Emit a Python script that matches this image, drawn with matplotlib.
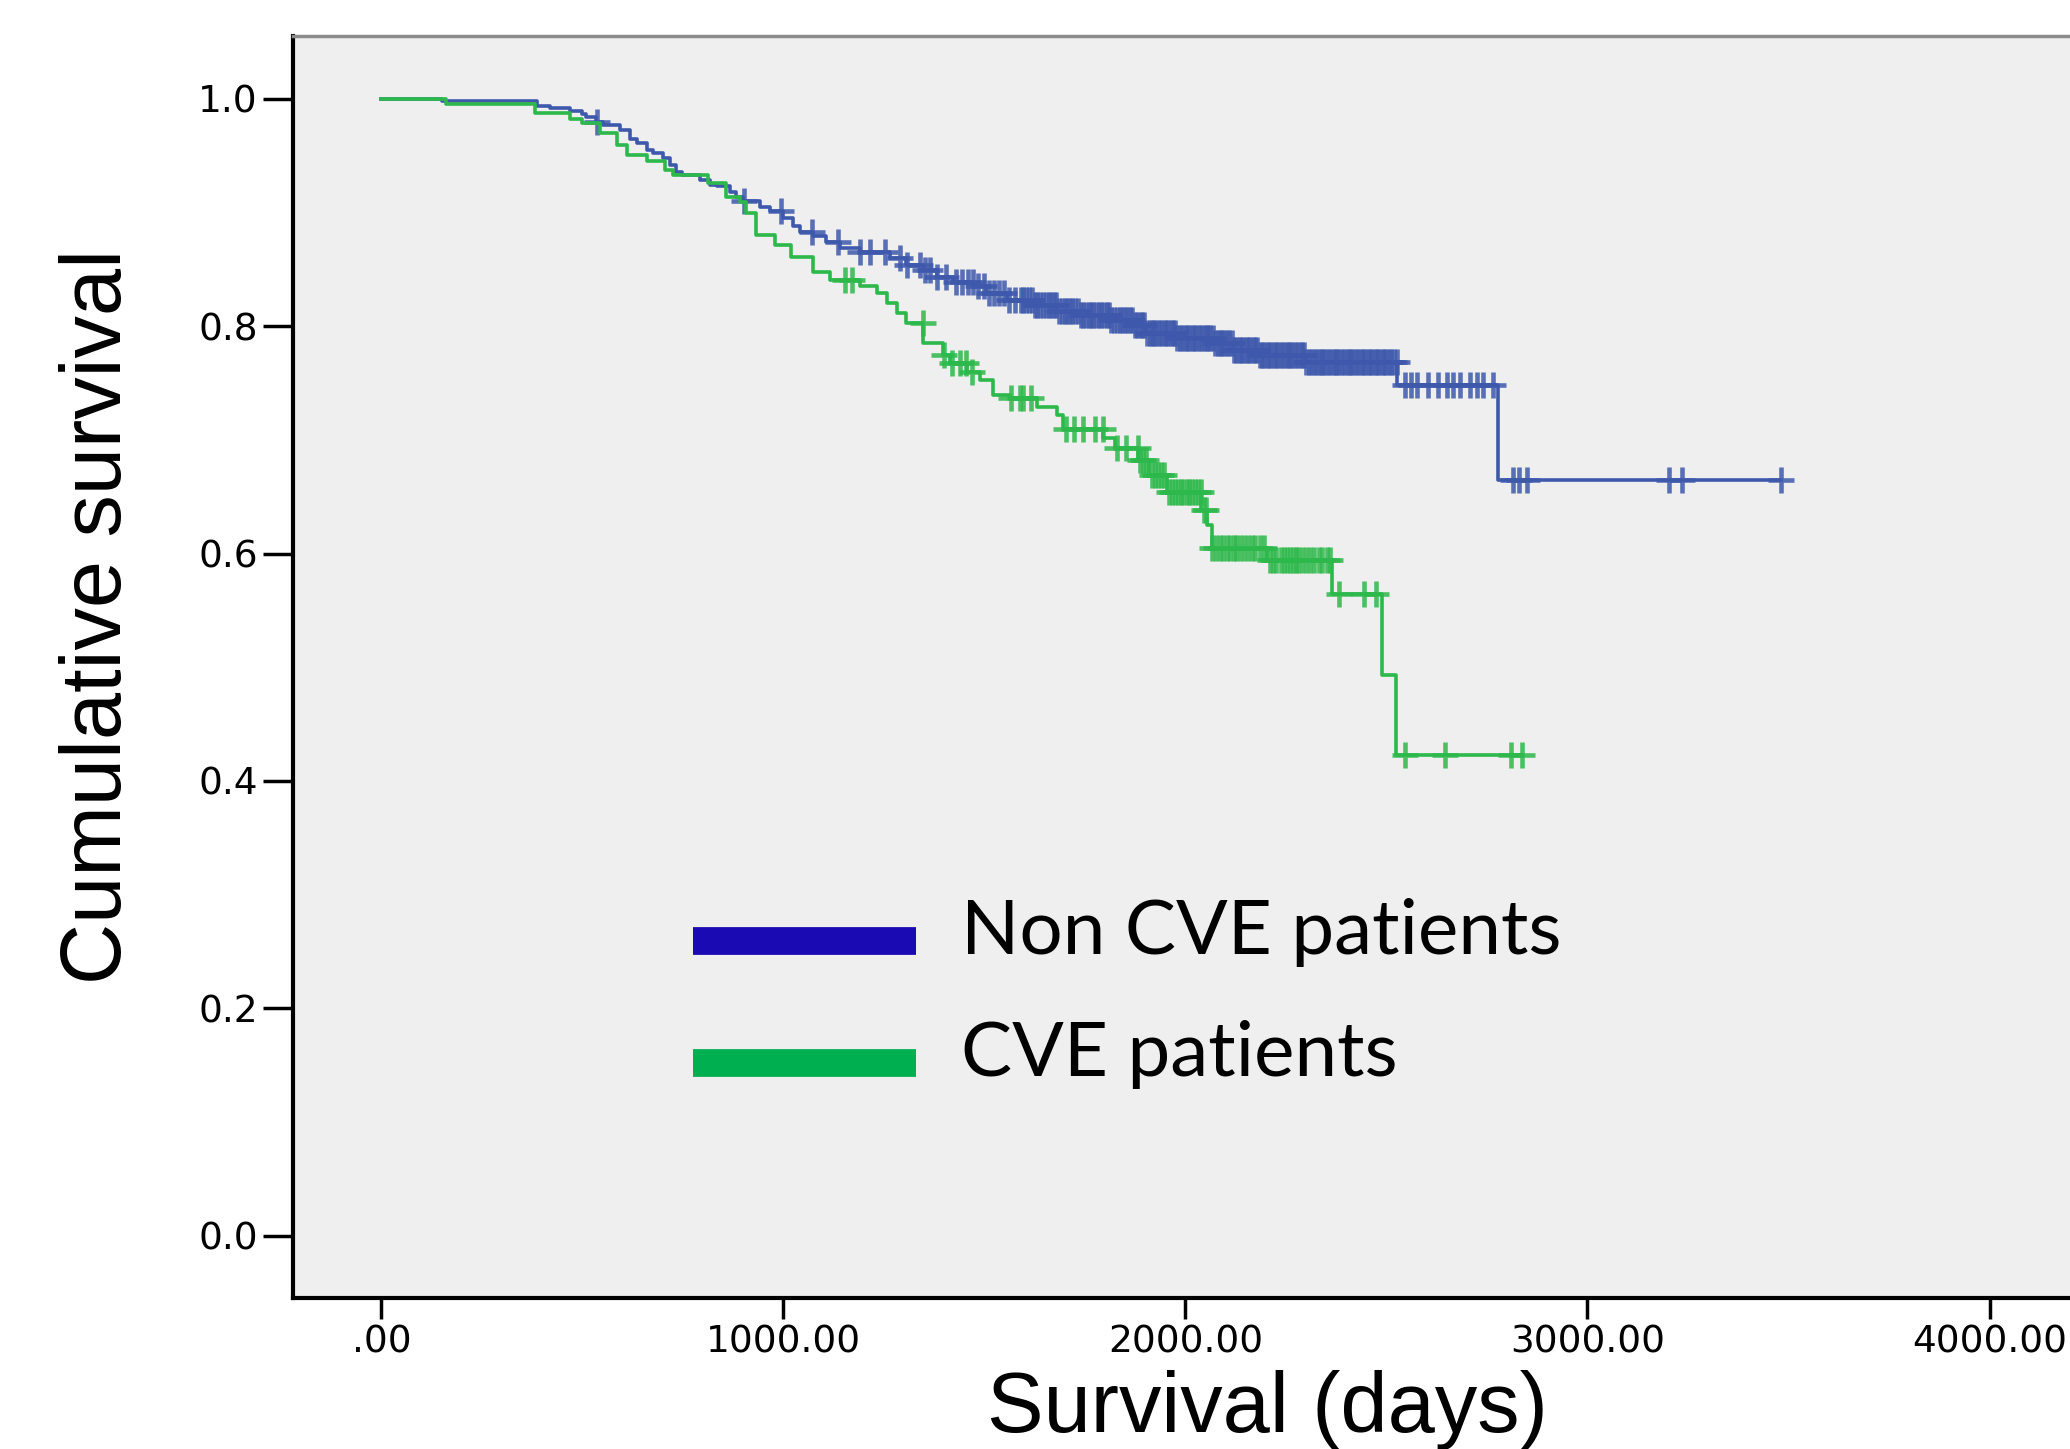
import matplotlib
matplotlib.use("Agg")
import matplotlib.pyplot as plt
import numpy as np
from matplotlib.lines import Line2D
from matplotlib.legend_handler import HandlerLine2D

# ---------------- data ----------------
# Non CVE patients: event times (days) and survival after each event
noncve_time = [0, 150, 386, 420, 469, 498, 510, 535, 551, 593, 618, 635, 660, 676,
               701, 718, 734, 747, 792, 817, 834, 867, 883, 900, 941, 966, 1000,
               1024, 1041, 1074, 1107, 1141, 1190, 1265, 1306, 1348, 1381, 1422,
               1472, 1505, 1555, 1621, 1680, 1738, 1812, 1870, 1903, 1978, 2069,
               2119, 2185, 2300, 2526, 2777]
noncve_surv = [1.000, 0.998, 0.994, 0.992, 0.989, 0.987, 0.9845, 0.980, 0.977, 0.973,
               0.965, 0.961, 0.955, 0.952, 0.948, 0.942, 0.936, 0.933, 0.929, 0.924,
               0.923, 0.9185, 0.914, 0.910, 0.905, 0.901, 0.895, 0.888, 0.883, 0.879,
               0.8745, 0.8686, 0.8657, 0.860, 0.854, 0.8496, 0.8437, 0.8393, 0.835,
               0.829, 0.823, 0.819, 0.813, 0.810, 0.8056, 0.801, 0.794, 0.7895, 0.785,
               0.7792, 0.775, 0.769, 0.748, 0.665]
noncve_censored = [537, 902, 995, 1070, 1136, 1191, 1215, 1252, 1291, 1307, 1340, 1352,
                   1365, 1382, 1405, 1430, 1445, 1458, 1471, 1485, 1498, 1511, 1523,
                   1536, 1548, 1561, 1575, 1590, 1597, 1604, 1611, 1618, 1625, 1632,
                   1639, 1645, 1652, 1660, 1666, 1672, 1679, 1686, 1693, 1700, 1706,
                   1712, 1719, 1726, 1733, 1740, 1746, 1752, 1759, 1765, 1771, 1778,
                   1784, 1790, 1797, 1804, 1810, 1816, 1823, 1830, 1836, 1842, 1849,
                   1855, 1861, 1868, 1874, 1880, 1886, 1892, 1898, 1905, 1911, 1916,
                   1922, 1928, 1934, 1940, 1946, 1951, 1957, 1963, 1969, 1975, 1980,
                   1986, 1992, 1998, 2004, 2010, 2016, 2021, 2027, 2033, 2039, 2045,
                   2051, 2056, 2062, 2068, 2074, 2080, 2086, 2091, 2097, 2103, 2109,
                   2115, 2121, 2126, 2132, 2138, 2144, 2150, 2156, 2161, 2167, 2173,
                   2179, 2186, 2191, 2196, 2202, 2208, 2214, 2220, 2226, 2231, 2237,
                   2243, 2249, 2255, 2261, 2266, 2272, 2278, 2284, 2290, 2296, 2301,
                   2307, 2313, 2319, 2325, 2331, 2336, 2342, 2348, 2354, 2360, 2366,
                   2371, 2377, 2383, 2389, 2395, 2401, 2406, 2412, 2418, 2424, 2430,
                   2436, 2441, 2447, 2453, 2459, 2465, 2471, 2476, 2482, 2488, 2494,
                   2500, 2506, 2511, 2518, 2525, 2546, 2560, 2575, 2604, 2629, 2650,
                   2666, 2682, 2707, 2724, 2740, 2765, 2815, 2830, 2850, 3202, 3236,
                   3481]

# CVE patients
cve_time = [0, 162, 382, 469, 500, 543, 585, 610, 660, 705, 725, 812, 858, 892, 908,
            933, 979, 1020, 1074, 1116, 1190, 1232, 1257, 1282, 1306, 1348, 1398,
            1414, 1456, 1489, 1522, 1563, 1630, 1681, 1696, 1796, 1825, 1882, 1910,
            1953, 2039, 2054, 2066, 2203, 2365, 2488, 2524]
cve_surv = [1.000, 0.9956, 0.9874, 0.982, 0.9786, 0.970, 0.9596, 0.9507, 0.9458,
            0.9375, 0.933, 0.926, 0.914, 0.9097, 0.8997, 0.880, 0.8716, 0.861, 0.848,
            0.8408, 0.835, 0.829, 0.8203, 0.8115, 0.8027, 0.785, 0.775, 0.7675, 0.760,
            0.7528, 0.7396, 0.7367, 0.7293, 0.722, 0.7097, 0.702, 0.693, 0.682, 0.6696,
            0.654, 0.6388, 0.625, 0.605, 0.594, 0.5645, 0.4936, 0.4229]
cve_censored = [1153, 1170, 1346, 1400, 1420, 1440, 1455, 1470, 1567, 1588, 1596, 1615,
                1703, 1724, 1745, 1774, 1795, 1831, 1853, 1881, 1888, 1895, 1903, 1917,
                1924, 1931, 1938, 1946, 1960, 1967, 1974, 1981, 1988, 1995, 2003, 2010,
                2017, 2024, 2031, 2038, 2046, 2052, 2067, 2075, 2085, 2094, 2103, 2112,
                2120, 2125, 2135, 2146, 2155, 2165, 2174, 2185, 2195, 2210, 2217, 2225,
                2238, 2245, 2252, 2260, 2268, 2275, 2281, 2290, 2300, 2310, 2320, 2331,
                2340, 2352, 2360, 2381, 2445, 2474, 2545, 2645, 2810, 2837]

group_labels = ["Non CVE patients", "CVE patients"]
y_ticks = [0.0, 0.2, 0.4, 0.6, 0.8, 1.0]
y_tick_labels = ["0.0", "0.2", "0.4", "0.6", "0.8", "1.0"]
x_ticks = [0, 1000, 2000, 3000, 4000]
x_tick_labels = [".00", "1000.00", "2000.00", "3000.00", "4000.00"]

# ---------------- styling ----------------
curve_colors = ["#3e59ac", "#2db84b"]
legend_colors = ["#1a0ab4", "#00b050"]

fig = plt.figure(figsize=(20.70, 14.49), dpi=100)
fig.patch.set_facecolor("white")
ax = fig.add_axes([0.1415, 0.1042, 1.0831 - 0.1415, 0.9752 - 0.1042])
ax.set_facecolor("#efefef")


def km_draw(t, s, cens, color):
    t = np.asarray(t, float)
    s = np.asarray(s, float)
    c = np.asarray(cens, float)
    tend = max(c.max(), t.max())
    ax.step(np.r_[t, tend], np.r_[s, s[-1]], where="post", color=color, lw=2.6,
            zorder=3)
    idx = np.searchsorted(t, c, side="right") - 1
    ax.plot(c, s[idx], ls="none", marker="+", ms=19, mew=3.3, color=color,
            alpha=0.85, zorder=3)


km_draw(noncve_time, noncve_surv, noncve_censored, curve_colors[0])
km_draw(cve_time, cve_surv, cve_censored, curve_colors[1])

ax.set_xlim(-220, 4628)
ax.set_ylim(-0.0548, 1.0554)
ax.set_yticks(y_ticks)
ax.set_yticklabels(y_tick_labels)
ax.set_xticks(x_ticks)
ax.set_xticklabels(x_tick_labels)

for lab in ax.get_xticklabels() + ax.get_yticklabels():
    lab.set_family("DejaVu Sans")
ax.tick_params(axis="y", length=21.6, width=2.5, pad=3.6, labelsize=27,
               direction="out")
ax.tick_params(axis="x", length=15, width=2.5, pad=4, labelsize=27,
               direction="out")

ax.spines["left"].set_linewidth(3)
ax.spines["bottom"].set_linewidth(3)
ax.spines["left"].set_color("black")
ax.spines["bottom"].set_color("black")
ax.spines["top"].set_linewidth(2.5)
ax.spines["top"].set_color("#8c8c8c")
ax.spines["right"].set_visible(False)

ax.set_ylabel("Cumulative survival", fontsize=61, family="Liberation Sans")
ax.yaxis.set_label_coords(-0.079, 0.5396)
ax.set_xlabel("Survival (days)", fontsize=61, family="Liberation Sans")
ax.xaxis.set_label_coords(0.5, -0.057)


class LoweredBarHandler(HandlerLine2D):
    """Legend bar drawn a little lower than the text centre, as in the source."""

    def create_artists(self, legend, orig_handle, xdescent, ydescent, width,
                       height, fontsize, trans):
        artists = super().create_artists(legend, orig_handle, xdescent, ydescent,
                                         width, height, fontsize, trans)
        for a in artists:
            a.set_ydata(np.asarray(a.get_ydata(), float) - 0.18 * fontsize)
        return artists


handles = [Line2D([0], [0], color=legend_colors[0], lw=20, solid_capstyle="butt"),
           Line2D([0], [0], color=legend_colors[1], lw=20, solid_capstyle="butt")]
ax.legend(handles, group_labels, loc="upper left", bbox_to_anchor=(0.2052, 0.317),
          frameon=False, prop={"family": "Lato", "size": 55}, handlelength=2.92,
          handletextpad=0.596, labelspacing=0.69, borderpad=0, borderaxespad=0,
          handler_map={Line2D: LoweredBarHandler()})

fig.savefig("out.png", dpi=100)
